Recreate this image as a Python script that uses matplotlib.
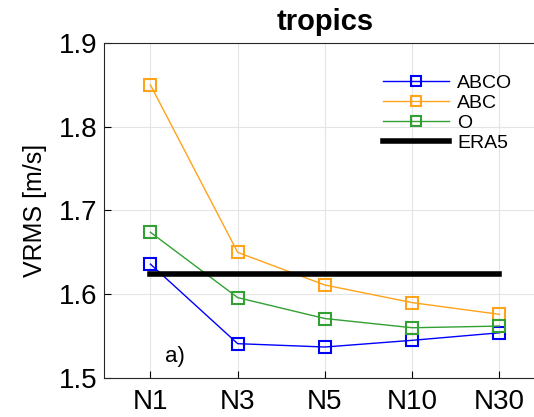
import numpy as np
import matplotlib.pyplot as plt

plt.rcParams['font.family'] = ['Liberation Sans', 'DejaVu Sans']

categories = ['N1', 'N3', 'N5', 'N10', 'N30']
abco = [1.636, 1.541, 1.537, 1.545, 1.554]
abc = [1.850, 1.650, 1.611, 1.590, 1.576]
obs = [1.674, 1.596, 1.571, 1.560, 1.562]
era5 = 1.6245

x = np.arange(1, len(categories) + 1)

fig = plt.figure(figsize=(5.34, 4.17), dpi=100)
ax = fig.add_axes([0.195, 0.0935, 0.827, 0.8035])

mk = dict(marker='s', markersize=8.5, markerfacecolor='none', markeredgewidth=1.5, linewidth=1.0)
ax.plot(x, abco, color='#0000ff', label='ABCO', **mk)
ax.plot(x, abc, color='#ffa31a', label='ABC', **mk)
ax.plot(x, obs, color='#33a033', label='O', **mk)
ax.plot([x[0], x[-1]], [era5, era5], color='black', linewidth=4, label='ERA5')

ax.set_xlim(0.47, 5.53)
ax.set_ylim(1.5, 1.9)
ax.set_xticks(x)
ax.set_xticklabels(categories)
ax.set_yticks([1.5, 1.6, 1.7, 1.8, 1.9])
ax.tick_params(direction='in', labelsize=20, length=5, width=0.8)
ax.tick_params(axis='y', pad=5)
ax.tick_params(axis='x', pad=8)
ax.grid(True, color='#e4e4e4', linewidth=0.8)
ax.set_axisbelow(True)
for s in ax.spines.values():
    s.set_color('#262626')
    s.set_linewidth(0.8)

ax.set_ylabel('VRMS [m/s]', fontsize=18, labelpad=8)
ax.set_title('tropics', fontsize=21, fontweight='bold', pad=9)
ax.text(1.17, 1.519, 'a)', fontsize=16)

leg = ax.legend(loc='upper left', bbox_to_anchor=(0.592, 0.958), frameon=False, fontsize=14,
                handlelength=3.4, labelspacing=0.12, handletextpad=0.4, markerscale=0.8)

fig.savefig('out.png', dpi=100)
